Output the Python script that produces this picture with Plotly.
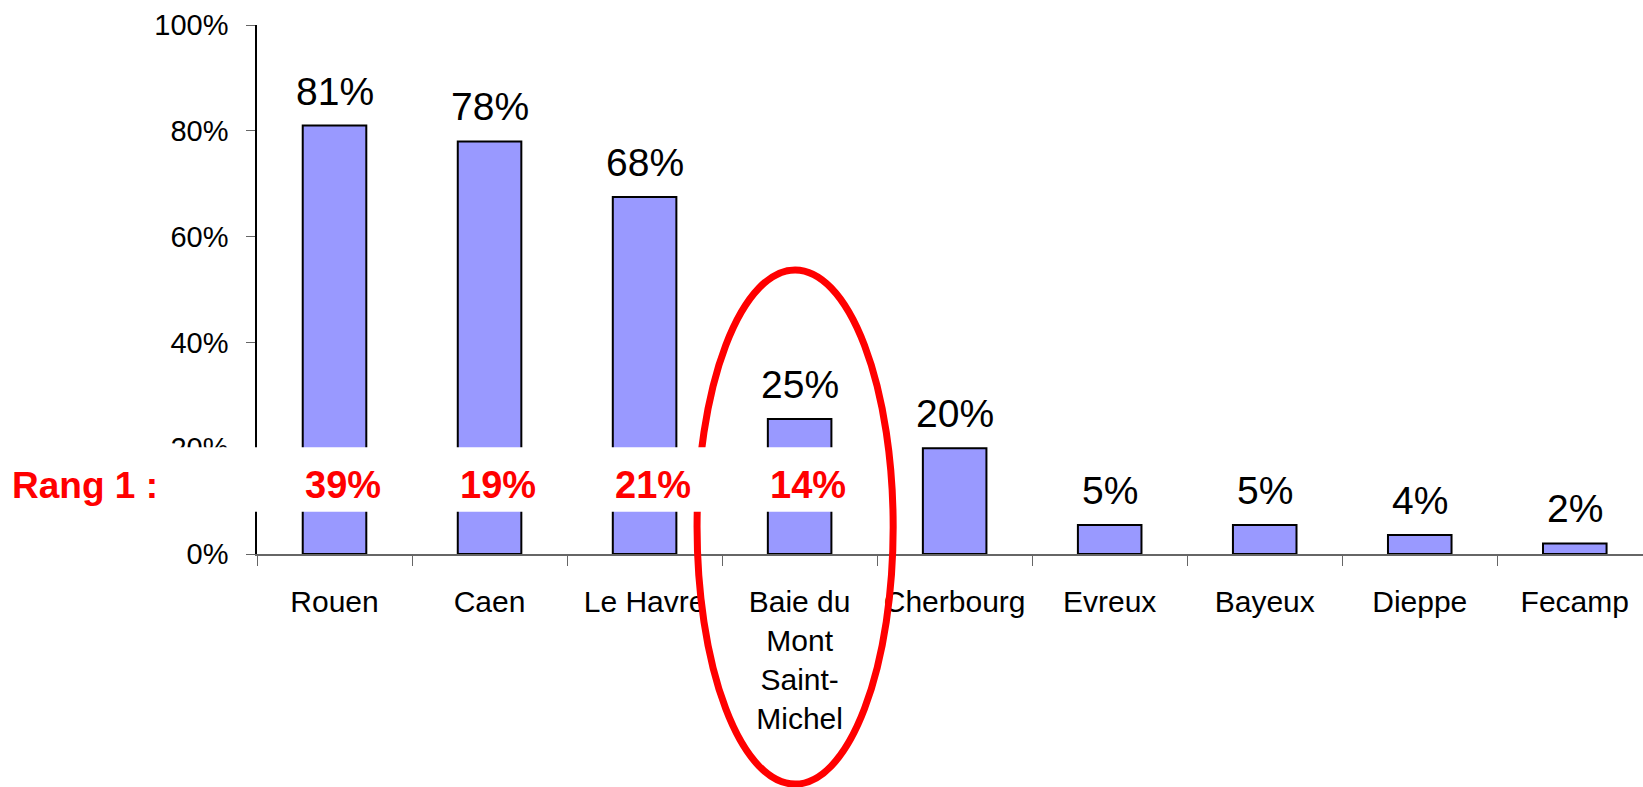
import plotly.graph_objects as go

villes = ["Rouen", "Caen", "Le Havre", "Baie du<br>Mont<br>Saint-<br>Michel",
          "Cherbourg", "Evreux", "Bayeux", "Dieppe", "Fecamp"]
notoriete = [0.81, 0.78, 0.675, 0.255, 0.20, 0.055, 0.055, 0.036, 0.02]
etiquettes = ["81%", "78%", "68%", "25%", "20%", "5%", "5%", "4%", "2%"]
rang1 = ["39%", "19%", "21%", "14%"]
y_ticks = [0, 0.2, 0.4, 0.6, 0.8, 1.0]

W, H = 1643, 787
POLICE = "Liberation Sans, Arial, sans-serif"

fig = go.Figure(go.Bar(
    x=villes, y=notoriete,
    marker=dict(color="#9999FF", line=dict(color="black", width=2)),
    width=0.41, hoverinfo="skip",
))

# etiquettes au-dessus des barres
annots = []
for v, val, txt in zip(villes, notoriete, etiquettes):
    annots.append(dict(x=v, y=val, text=txt, showarrow=False, yanchor="bottom",
                       yshift=11, font=dict(size=39, color="black", family=POLICE)))

# ligne "Rang 1"
annots.append(dict(xref="paper", yref="y", x=-0.178, y=0.13, xanchor="left",
                   text="<b>Rang 1 :</b>", showarrow=False,
                   font=dict(size=37, color="#FF0000", family=POLICE)))
for v, txt in zip(villes, rang1):
    annots.append(dict(x=v, y=0.13, text="<b>" + txt + "</b>", showarrow=False,
                       xshift=8, font=dict(size=38, color="#FF0000", family=POLICE)))

shapes = [
    # ellipse autour de la Baie du Mont Saint-Michel
    dict(type="circle", xref="paper", yref="paper", x0=0.3175, x1=0.459,
         y0=-0.435, y1=0.537, line=dict(color="#FF0000", width=7), layer="above"),
    # bande blanche derriere la ligne "Rang 1"
    dict(type="rect", xref="paper", yref="paper", x0=-0.2, x1=0.428,
         y0=0.08, y1=0.202, fillcolor="white", line=dict(width=0), layer="above"),
]

fig.update_layout(
    width=W, height=H,
    margin=dict(l=257, r=0, t=25, b=233),
    plot_bgcolor="white", paper_bgcolor="white",
    showlegend=False,
    annotations=annots, shapes=shapes,
    font=dict(family=POLICE, size=29, color="black"),
)
fig.update_xaxes(
    range=[-0.5, 8.44], showline=True, linecolor="#666666", linewidth=1.5,
    ticks="outside", ticklen=10, tickcolor="#666666", tickson="boundaries",
    showgrid=False, tickfont=dict(size=30), tickangle=0, ticklabelstandoff=20,
)
fig.update_yaxes(
    range=[0, 1], tickvals=y_ticks, tickformat=".0%", showline=True,
    linecolor="black", linewidth=1.5, ticks="outside", ticklen=9,
    tickcolor="#666666", showgrid=False, zeroline=False, tickfont=dict(size=29),
    ticklabelstandoff=12,
)

fig.write_html("out.html", config={"displayModeBar": False},
               post_script="document.body.style.margin='0';")
